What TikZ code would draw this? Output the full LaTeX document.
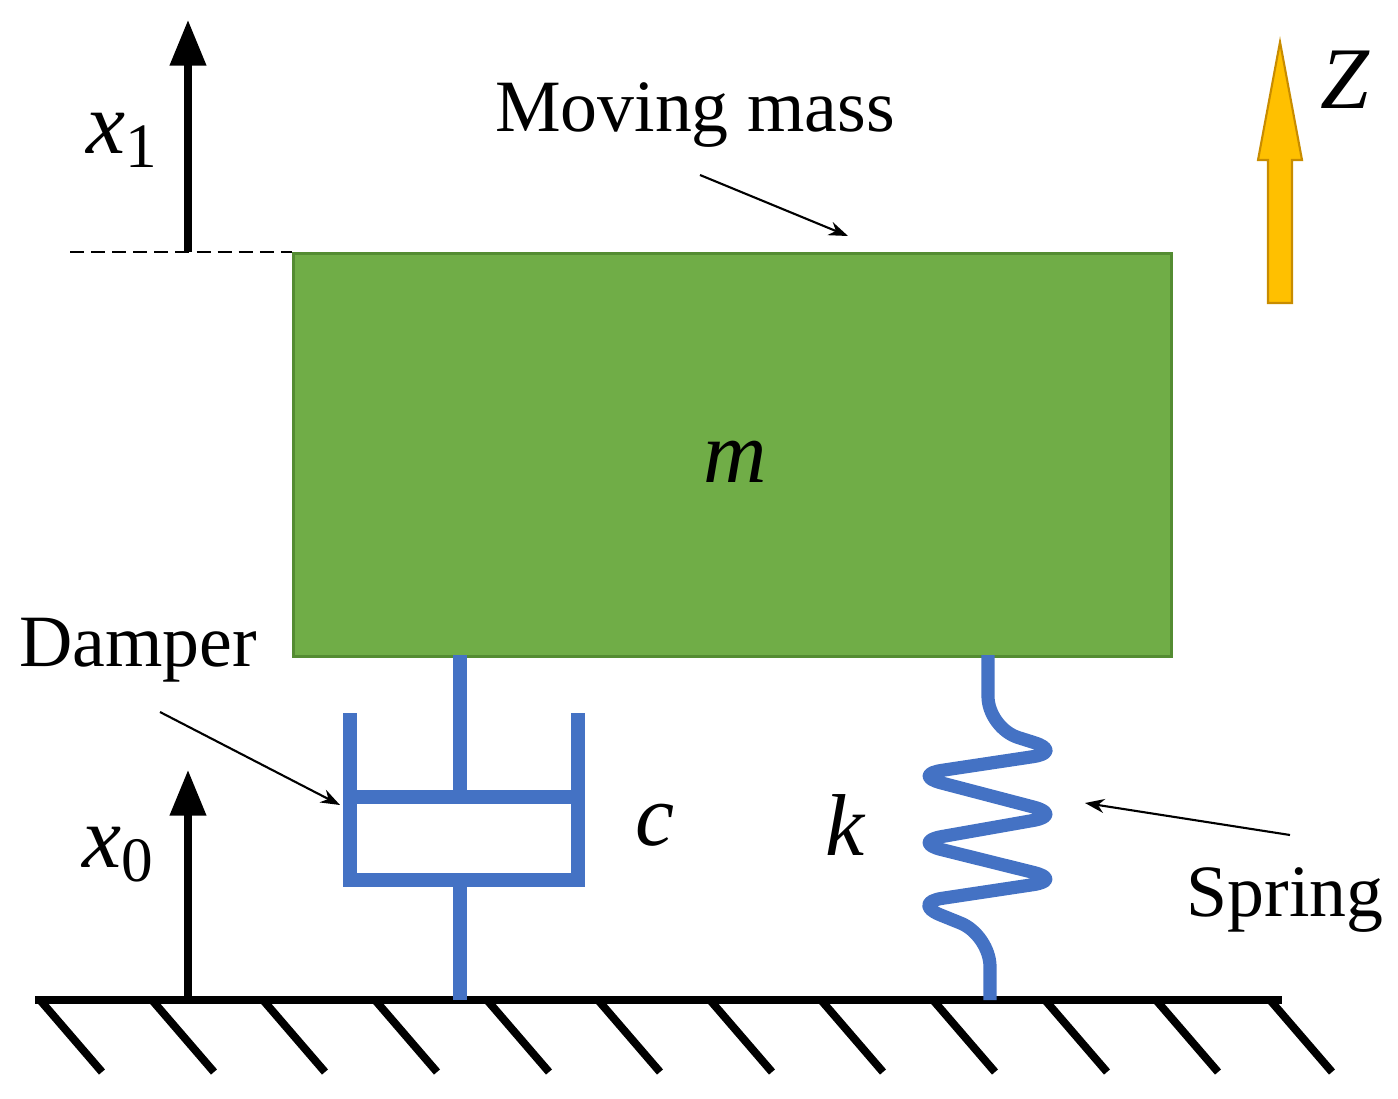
\documentclass[tikz,border=0pt]{standalone}
\usepackage{fontspec}
\setmainfont{Liberation Serif}
\usetikzlibrary{arrows.meta}
\newcommand{\sublbl}[2]{\textit{#1}\raisebox{-0.35ex}{\fontsize{36}{38}\selectfont\upshape #2}}
\begin{document}
\begin{tikzpicture}[x=0.02cm,y=-0.02cm,
  lbl/.style={font=\fontsize{42}{48}\selectfont},
  mlbl/.style={font=\fontsize{50}{56}\selectfont\itshape},
  blue/.style={draw={rgb,255:red,68;green,114;blue,196},line width=7.5pt},
  disp/.style={line width=4pt,-{Triangle[length=26pt,width=20pt]}},
  pt/.style={-{Stealth[length=11pt,width=8pt]},line width=1.2pt}]
\useasboundingbox (0,0) rectangle (1398,1098);
% mass
\node[draw={rgb,255:red,84;green,140;blue,50},line width=1.5pt,fill={rgb,255:red,112;green,173;blue,71},minimum width=878*0.02cm,minimum height=403*0.02cm,inner sep=0,anchor=north west] (mass) at (292,252) {};
\node[mlbl] (m) at (735,462) {m};
\coordinate (dl) at (70,252);
\draw[dashed,line width=1.3pt,dash pattern=on 8pt off 4pt] (dl) -- (mass.north west);
% x1
\coordinate (x1b) at (188,252); \coordinate (x1t) at (188,20);
\draw[disp] (x1b) -- (x1t);
\node[mlbl] (x1) at (122,140) {\sublbl{x}{1}};
% moving mass
\node[lbl] (mm) at (695,115) {Moving mass};
\coordinate (mma) at (700,175); \coordinate (mmb) at (848,236);
\draw[pt] (mma) -- (mmb);
% Z arrow
\draw[draw={rgb,255:red,200;green,140;blue,0},fill={rgb,255:red,255;green,192;blue,0},line width=1.2pt]
  (1268,303) -- (1268,160) -- (1258,160) -- (1280,42) -- (1302,160) -- (1292,160) -- (1292,303) -- cycle;
\node[mlbl] (z) at (1345,80) {Z};
% ground
\coordinate (g1) at (35,1000); \coordinate (g2) at (1282,1000);
\draw[line width=4.5pt] (g1) -- (g2);
\foreach \x in {40,152,263,375,487,598,710,821,933,1045,1156,1270}
  \draw[line width=4.5pt] (\x,1000) -- ++(62,72);
% damper
\draw[blue] (460,655) -- (460,797);
\draw[blue] (350,713) -- (350,880) -- (578,880) -- (578,713);
\draw[blue] (350,797) -- (572,797);
\draw[blue] (460,880) -- (460,1000);
\node[lbl] (dmp) at (138,650) {Damper};
\coordinate (da) at (160,712); \coordinate (db) at (340,805);
\draw[pt] (da) -- (db);
\node[mlbl] (c) at (655,825) {c};
% spring
\draw[blue,line join=round,rounded corners=18pt] (988,655) -- (988,728) -- (1064,752) -- (911,775) -- (1064,815) -- (911,842) -- (1064,880) -- (911,903) -- (990,935) -- (990,1000);
\node[mlbl] (k) at (845,825) {k};
\node[lbl] (spr) at (1285,900) {Spring};
\coordinate (sa) at (1290,835); \coordinate (sb) at (1085,803);
\draw[pt] (sa) -- (sb);
% x0
\coordinate (x0b) at (188,1000); \coordinate (x0t) at (188,770);
\draw[disp] (x0b) -- (x0t);
\node[mlbl] (x0) at (118,855) {\sublbl{x}{0}};
\end{tikzpicture}
\end{document}
